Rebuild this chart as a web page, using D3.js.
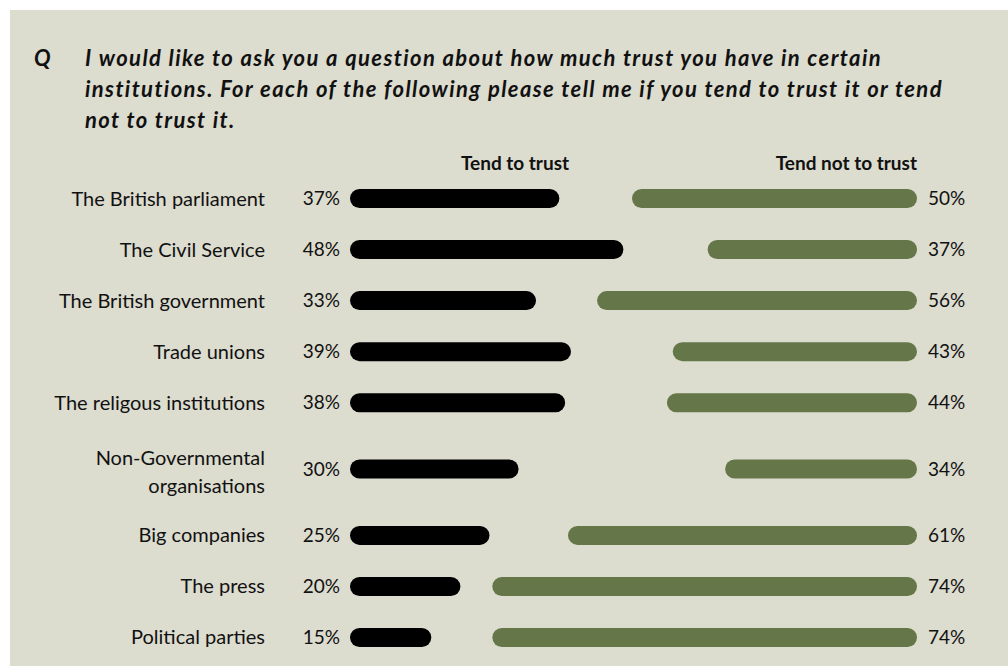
<!DOCTYPE html>
<html>
<head>
<meta charset="utf-8">
<script src="https://cdn.jsdelivr.net/npm/d3@7"></script>
<style>
  html, body { margin: 0; padding: 0; background: #ffffff; }
  svg { display: block; }
</style>
</head>
<body>
<div id="chart"></div>
<script>
// Survey: trust in institutions
const categories = [
  ["The British parliament"],
  ["The Civil Service"],
  ["The British government"],
  ["Trade unions"],
  ["The religous institutions"],
  ["Non-Governmental", "organisations"],
  ["Big companies"],
  ["The press"],
  ["Political parties"]
];
const trustValues    = [37, 48, 33, 39, 38, 30, 25, 20, 15];
const distrustValues = [50, 37, 56, 43, 44, 34, 61, 74, 74];
const seriesNames = ["Tend to trust", "Tend not to trust"];
const questionLines = [
  "I would like to ask you a question about how much trust you have in certain",
  "institutions. For each of the following please tell me if you tend to trust it or tend",
  "not to trust it."
];

const W = 1008, H = 666;
const bg = "#dcdccf", ink = "#111111", green = "#657749";
const font = "Lato, 'Open Sans', sans-serif";

const svg = d3.select("#chart").append("svg")
  .attr("width", W).attr("height", H);

svg.append("rect")
  .attr("x", 10).attr("y", 10)
  .attr("width", W - 10).attr("height", H - 10)
  .attr("fill", bg);

// Question block
svg.append("text")
  .attr("x", 34).attr("y", 66)
  .attr("font-family", font).attr("font-size", 22)
  .attr("font-weight", 700).attr("font-style", "italic")
  .attr("fill", ink)
  .text("Q");

svg.append("text")
  .attr("font-family", font).attr("font-size", 22)
  .attr("font-weight", 700).attr("font-style", "italic")
  .attr("letter-spacing", 1.4)
  .attr("fill", ink)
  .selectAll("tspan").data(questionLines).join("tspan")
  .attr("x", 85)
  .attr("y", (d, i) => 66 + i * 31)
  .text(d => d);

// Row layout: two-line labels get a taller row
const rowUnits = categories.map(c => c.length > 1 ? 1.6 : 1);
const cum = d3.cumsum([0, ...rowUnits]);
const y = d3.scaleLinear().domain([0, d3.sum(rowUnits)]).range([173, 663]);
const rowCenter = i => y(cum[i] + rowUnits[i] / 2);

// Bar length scale (percent -> pixels)
const len = d3.scaleLinear().domain([0, 100]).range([-6, 576]);
const trustStart = 350, distrustEnd = 917;
const barH = 19;

// Column headers
svg.append("text")
  .attr("x", 515).attr("y", 170)
  .attr("text-anchor", "middle")
  .attr("font-family", font).attr("font-size", 19).attr("font-weight", 700)
  .attr("fill", ink)
  .text(seriesNames[0]);
svg.append("text")
  .attr("x", distrustEnd).attr("y", 170)
  .attr("text-anchor", "end")
  .attr("font-family", font).attr("font-size", 19).attr("font-weight", 700)
  .attr("fill", ink)
  .text(seriesNames[1]);

const rows = svg.selectAll("g.row")
  .data(categories.map((c, i) => ({ label: c, trust: trustValues[i], distrust: distrustValues[i], i })))
  .join("g").attr("class", "row")
  .attr("transform", d => `translate(0,${rowCenter(d.i)})`);

// Category labels
rows.append("text")
  .attr("text-anchor", "end")
  .attr("font-family", font).attr("font-size", 20)
  .attr("fill", ink)
  .selectAll("tspan").data(d => d.label.map((t, k) => ({ t, k, n: d.label.length })))
  .join("tspan")
  .attr("x", 265)
  .attr("y", d => d.n > 1 ? (d.k === 0 ? -11 : 17) : 0)
  .attr("dy", "0.35em")
  .text(d => d.t);

// Trust bars
rows.append("rect")
  .attr("x", trustStart)
  .attr("y", -barH / 2)
  .attr("width", d => len(d.trust))
  .attr("height", barH)
  .attr("rx", barH / 2)
  .attr("fill", "#000000");

// Distrust bars
rows.append("rect")
  .attr("x", d => distrustEnd - len(d.distrust))
  .attr("y", -barH / 2)
  .attr("width", d => len(d.distrust))
  .attr("height", barH)
  .attr("rx", barH / 2)
  .attr("fill", green);

// Value labels
rows.append("text")
  .attr("x", 340).attr("dy", "0.35em")
  .attr("text-anchor", "end")
  .attr("font-family", font).attr("font-size", 19)
  .attr("fill", ink)
  .text(d => d.trust + "%");
rows.append("text")
  .attr("x", 928).attr("dy", "0.35em")
  .attr("text-anchor", "start")
  .attr("font-family", font).attr("font-size", 19)
  .attr("fill", ink)
  .text(d => d.distrust + "%");
</script>
</body>
</html>
